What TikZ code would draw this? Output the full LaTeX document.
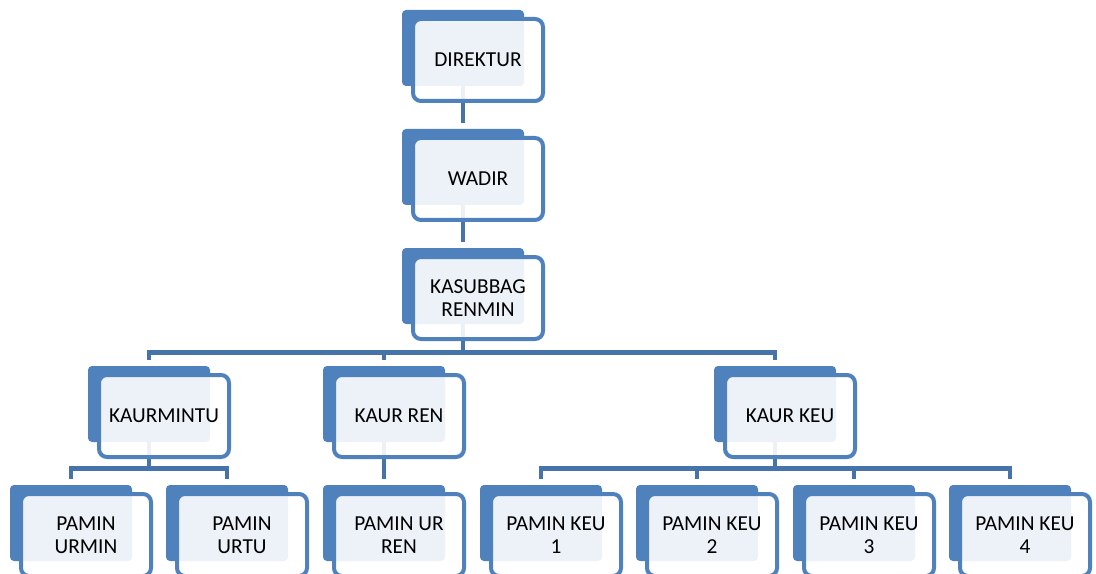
\documentclass[tikz,border=0pt]{standalone}
\usepackage{fontspec}
\setmainfont{Carlito}
\usepackage{tikz}
\usetikzlibrary{arrows,shapes}
\pgfdeclarelayer{background}
\pgfsetlayers{background,main}
\definecolor{boxblue}{RGB}{79,129,189}
\definecolor{lineblue}{RGB}{70,116,170}
\tikzstyle{unit}=[rectangle, draw=boxblue, line width=3pt
,fill=white, fill opacity=0.9, text opacity=1
,rounded corners=6pt
,minimum width=97.5pt, minimum height=61.5pt
,inner sep=0pt, align=center
,font=\fontsize{16}{17}\selectfont
]
\tikzstyle{back}=[rectangle, fill=boxblue, rounded corners=3pt
,minimum width=91.5pt, minimum height=57pt
,inner sep=0pt
]
\tikzstyle{edge} = [draw=lineblue, line width=3.4pt, shorten >=4.5pt]

\begin{document}
\begin{tikzpicture}[x=0.75pt,y=-0.75pt]
    \useasboundingbox (0,0) rectangle (1096,574);
    \clip (0,0) rectangle (1096,574);
    % First we draw the front boxes with their texts
    \foreach \pos/\name/\txt in {{(478,60)/dir/DIREKTUR}, {(478,179)/wadir/WADIR},
        {(478,298)/kasubbag/KASUBBAG\\RENMIN},
        {(164,416)/kaurmintu/KAURMINTU}, {(399,416)/kaurren/KAUR REN}, {(790,416)/kaurkeu/KAUR KEU},
        {(86,535)/pmurmin/PAMIN\\URMIN}, {(242,535)/pmurtu/PAMIN\\URTU}, {(399,535)/pmurren/PAMIN UR\\REN},
        {(556,535)/pmkeua/PAMIN KEU\\1}, {(712,535)/pmkeub/PAMIN KEU\\2},
        {(869,535)/pmkeuc/PAMIN KEU\\3}, {(1025,535)/pmkeud/PAMIN KEU\\4}}
        \node[unit] (\name) at \pos {\txt};
    \begin{pgfonlayer}{background}
    % Then the dark boxes behind them
    \foreach \name in {dir, wadir, kasubbag, kaurmintu, kaurren, kaurkeu,
        pmurmin, pmurtu, pmurren, pmkeua, pmkeub, pmkeuc, pmkeud}
        \node[back] (b\name) at ([xshift=-11.25pt,yshift=9pt]\name.center) {};
    % Connect boxes with edges
    \foreach \source/\dest/\h in {dir/wadir/20, wadir/kasubbag/20,
        kasubbag/kaurmintu/28, kasubbag/kaurren/28, kasubbag/kaurkeu/28,
        kaurmintu/pmurmin/26, kaurmintu/pmurtu/26, kaurren/pmurren/26,
        kaurkeu/pmkeua/26, kaurkeu/pmkeub/26, kaurkeu/pmkeuc/26, kaurkeu/pmkeud/26}
        \path[edge] (b\source.south) -- ++(0,\h) -| (b\dest.north);
    \end{pgfonlayer}
\end{tikzpicture}
\end{document}
